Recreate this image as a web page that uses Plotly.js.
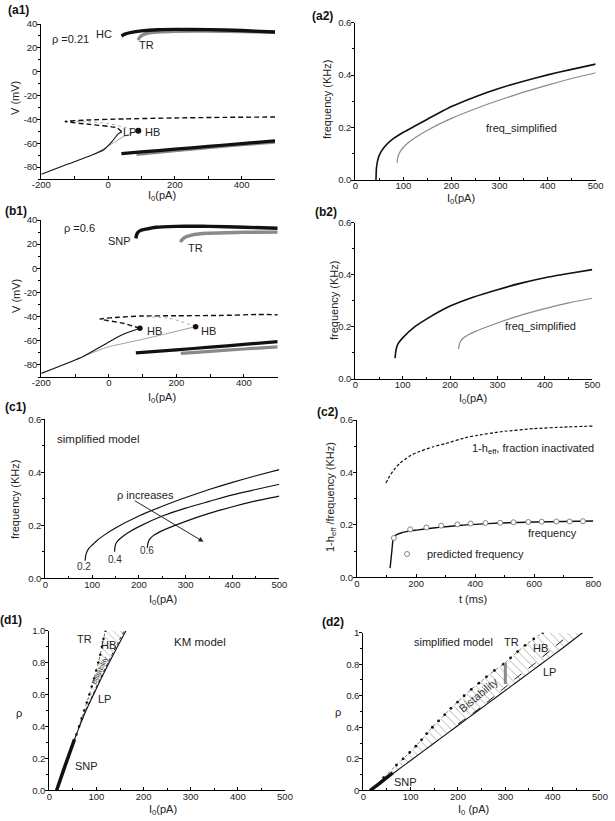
<!DOCTYPE html>
<html>
<head>
<meta charset="utf-8">
<script src="https://cdn.plot.ly/plotly-3.0.1.min.js"></script>
<style>html,body{margin:0;padding:0;background:#fff}#chart{width:615px;height:821px}</style>
</head>
<body>
<div id="chart"></div>
<script>
// ---------------- DATA ----------------
// (a1) rho = 0.21, bifurcation diagram V vs I0
const a1_hcUpperI = [40, 50, 70, 100, 150, 200, 300, 400, 500];
const a1_hcUpperV = [30, 31.5, 33, 34.2, 35.2, 35.5, 35.3, 34.5, 33.3];
const a1_trUpperI = [90, 95, 105, 120, 150, 200, 300, 400, 500];
const a1_trUpperV = [26.5, 29, 31, 32.3, 33.2, 33.8, 34, 33.6, 33];
const a1_hcLowerI = [40, 100, 200, 300, 400, 500];
const a1_hcLowerV = [-68.7, -67.3, -65, -62.7, -60.3, -58];
const a1_trLowerI = [85, 200, 300, 400, 500];
const a1_trLowerV = [-69.3, -66.3, -63.8, -61.3, -59];
const a1_stableI = [-200, -120, -44, -14, 11, 31, 41];
const a1_stableV = [-86, -77.5, -69.5, -65.7, -58.8, -52, -50.4];
const a1_unstableI = [41, 26, -54, -129, -60, 50, 200, 350, 500];
const a1_unstableV = [-50.4, -47, -44.2, -41.8, -40.5, -39.6, -38.8, -38.3, -38];
const a1_simpStableI = [-44, 0, 45, 90.5];
const a1_simpStableV = [-69.5, -62.5, -54.6, -49.5];
const a1_simpUnstableI = [90.5, 40, -4, -60, -129];
const a1_simpUnstableV = [-49.5, -46, -43.3, -42, -41.5];
const a1_hbI = [90.5];
const a1_hbV = [-49.5];

// (a2) frequency vs I0, rho = 0.21
const a2_fullI = [43, 43.5, 44, 46, 50, 60, 75, 100, 150, 200, 250, 300, 350, 400, 450, 500];
const a2_fullF = [0, 0.03, 0.045, 0.07, 0.095, 0.125, 0.152, 0.182, 0.232, 0.28, 0.318, 0.35, 0.377, 0.401, 0.422, 0.442];
const a2_simpI = [87, 88, 90, 95, 100, 110, 125, 150, 200, 250, 300, 350, 400, 450, 500];
const a2_simpF = [0.066, 0.082, 0.096, 0.113, 0.125, 0.142, 0.162, 0.19, 0.235, 0.272, 0.305, 0.335, 0.362, 0.387, 0.409];

// (b1) rho = 0.6
const b1_snpUpperI = [80, 82, 86, 95, 110, 140, 200, 250, 300, 400, 500];
const b1_snpUpperV = [24.8, 27.5, 29.8, 31.5, 32.5, 34, 34.7, 34.9, 34.7, 34, 33.2];
const b1_trUpperI = [213, 215, 222, 230, 250, 290, 350, 400, 500];
const b1_trUpperV = [21.5, 23, 25, 26.2, 27.8, 29, 29.5, 29.8, 30];
const b1_snpLowerI = [80, 200, 300, 400, 500];
const b1_snpLowerV = [-70, -67.5, -65.3, -63, -60.7];
const b1_trLowerI = [213, 300, 400, 500];
const b1_trLowerV = [-70.4, -68.8, -66.8, -65];
const b1_stableI = [-200, -76, -6, 38, 92];
const b1_stableV = [-87, -73, -62, -55.2, -49.7];
const b1_simpStableI = [-76, -6, 92, 180, 257];
const b1_simpStableV = [-73, -65.4, -59.3, -53.5, -48.3];
const b1_unstableI = [92, 43, -26, 30, 92, 200, 339, 440, 500];
const b1_unstableV = [-49.7, -45.5, -42, -40.5, -39.5, -39.3, -39, -38.2, -38.5];
const b1_simpUnstableI = [257, 181, 100];
const b1_simpUnstableV = [-48.3, -41.4, -40];
const b1_hbI = [92, 257];
const b1_hbV = [-49.7, -48.3];

// (b2) frequency vs I0, rho = 0.6
const b2_fullI = [84, 85, 87, 90, 100, 125, 150, 200, 250, 300, 350, 400, 450, 500];
const b2_fullF = [0.08, 0.1, 0.12, 0.135, 0.158, 0.2, 0.23, 0.28, 0.315, 0.343, 0.368, 0.389, 0.405, 0.42];
const b2_simpI = [218, 219, 222, 230, 250, 300, 350, 400, 450, 500];
const b2_simpF = [0.115, 0.13, 0.145, 0.16, 0.18, 0.215, 0.245, 0.27, 0.292, 0.31];

// (c1) simplified model, rho = 0.2 / 0.4 / 0.6
const c1_rhoLabels = ['0.2', '0.4', '0.6'];
const c1_r2I = [85, 86, 88, 93, 100, 110, 125, 150, 200, 250, 300, 350, 400, 450, 500];
const c1_r2F = [0.066, 0.082, 0.096, 0.113, 0.125, 0.142, 0.162, 0.19, 0.235, 0.272, 0.305, 0.335, 0.362, 0.387, 0.41];
const c1_r4I = [148, 149, 152, 160, 175, 200, 250, 300, 350, 400, 450, 500];
const c1_r4F = [0.1, 0.12, 0.135, 0.15, 0.17, 0.195, 0.235, 0.265, 0.29, 0.315, 0.335, 0.355];
const c1_r6I = [218, 219, 222, 230, 250, 300, 350, 400, 450, 500];
const c1_r6F = [0.115, 0.13, 0.145, 0.16, 0.18, 0.215, 0.245, 0.27, 0.292, 0.31];

// (c2) time course
const c2_hT = [98, 110, 125, 145, 175, 200, 258, 300, 371, 400, 484, 500, 597, 700, 800];
const c2_hV = [0.36, 0.385, 0.41, 0.435, 0.46, 0.475, 0.498, 0.51, 0.534, 0.54, 0.555, 0.557, 0.567, 0.573, 0.577];
const c2_freqT = [112, 118, 123, 130, 146, 175, 202, 258, 300, 371, 400, 484, 600, 700, 800];
const c2_freqF = [0.035, 0.1, 0.15, 0.16, 0.168, 0.176, 0.18, 0.188, 0.193, 0.2, 0.202, 0.207, 0.211, 0.213, 0.215];
const c2_predT = [125, 180, 235, 285, 340, 385, 435, 485, 530, 580, 625, 675, 720, 765];
const c2_predF = [0.15, 0.183, 0.19, 0.197, 0.202, 0.205, 0.207, 0.208, 0.21, 0.211, 0.212, 0.213, 0.213, 0.214];

// (d1) KM model two-parameter diagram
const d1_lpRho = [0, 0.1, 0.2, 0.3, 0.35, 0.4, 0.5, 0.6, 0.7, 0.8, 0.9, 1.0];
const d1_lpI = [15.6, 27, 39, 51, 57.5, 64, 78, 94, 110, 127, 144.5, 162.7];
const d1_snpRho = [0, 0.15, 0.32];
const d1_snpI = [15.6, 33, 53.5];
const d1_trRho = [0.35, 0.4, 0.45, 0.5, 0.55, 0.6, 0.65, 0.7, 0.75, 0.8, 0.85, 0.9, 0.95, 1.0];
const d1_trI = [57.5, 63, 68.5, 74, 79.5, 85, 90, 95, 99.5, 104, 108, 111.5, 115, 119];
const d1_hbRho = [0.4, 0.5, 0.6, 0.7, 0.8, 0.9, 1.0];
const d1_hbI = [63.5, 77, 92.5, 108, 124.5, 141.5, 159];

// (d2) simplified model two-parameter diagram
const d2_lpRho = [0, 0.1, 0.2, 0.3, 0.4, 0.5, 0.6, 0.7, 0.8, 0.9, 1.0];
const d2_lpI = [15, 60, 105, 150, 195, 240, 285, 330, 375, 420, 463];
const d2_snpRho = [0, 0.05, 0.11];
const d2_snpI = [15, 37, 62];
const d2_trRho = [0, 0.08, 0.16, 0.2, 0.24, 0.28, 0.32, 0.36, 0.4, 0.44, 0.48, 0.52, 0.56, 0.6, 0.64, 0.68, 0.72, 0.76, 0.8, 0.84, 0.88, 0.92, 0.96, 1.0];
const d2_trI = [15, 43, 70, 84, 98, 111, 123, 134, 146, 159, 172, 185, 199, 213, 228, 244, 260, 277, 296, 311, 326, 342, 360, 379];
const d2_hbRho = [0.42, 0.53, 0.63, 0.705, 0.8, 0.9, 0.975];
const d2_hbI = [200, 250, 290, 320, 360, 400, 430];
const d2_barRho = [0.674, 0.81];
const d2_barI = [300, 300];

// tick labels
const a1_xTickVals = [-200, -100, 0, 100, 200, 300, 400, 500];
const a1_xTickText = ['-200', ' ', '0', ' ', '200', ' ', '400', ' '];
const v_yTickVals = [-80, -60, -40, -20, 0, 20, 40];
const v_yTickText = ['-80', '-60', '-40', '-20', '0', '20', '40'];

// ---------------- STYLE / LAYOUT ----------------
const FONT = 'Liberation Sans, Arial, Helvetica, sans-serif';
const BLACK = '#111';
const GREY = '#8a8a8a';
const LGREY = '#a0a0a0';

function sfx(k) { return k === 1 ? '' : String(k); }
function tr(k, x, y, color, width, dash, extra) {
  return Object.assign({
    type: 'scatter', mode: 'lines', x: x, y: y,
    xaxis: 'x' + sfx(k), yaxis: 'y' + sfx(k),
    line: { color: color, width: width, dash: dash || 'solid', shape: 'spline', smoothing: 0.5 },
    showlegend: false, hoverinfo: 'skip'
  }, extra || {});
}
function pts(k, x, y, extra) {
  return Object.assign({
    type: 'scatter', mode: 'markers', x: x, y: y,
    xaxis: 'x' + sfx(k), yaxis: 'y' + sfx(k),
    marker: { color: BLACK, size: 6 }, showlegend: false, hoverinfo: 'skip'
  }, extra || {});
}
function hatch(k, xTop, yTop, xBot, yBot, size) {
  const xs = xTop.concat(xBot.slice().reverse());
  const ys = yTop.concat(yBot.slice().reverse());
  return {
    type: 'scatter', mode: 'none', x: xs, y: ys,
    xaxis: 'x' + sfx(k), yaxis: 'y' + sfx(k),
    fill: 'toself', fillcolor: 'rgba(0,0,0,0)',
    fillpattern: { shape: '\\', fgcolor: '#9a9a9a', bgcolor: 'rgba(0,0,0,0)', size: size, solidity: 0.12 },
    showlegend: false, hoverinfo: 'skip'
  };
}

const traces = [];
// a1
traces.push(tr(1, a1_simpUnstableI, a1_simpUnstableV, LGREY, 0.9, 'dot'));
traces.push(tr(1, a1_unstableI, a1_unstableV, BLACK, 1.4, '5px,3px'));
traces.push(tr(1, a1_simpStableI, a1_simpStableV, LGREY, 1, 'solid'));
traces.push(tr(1, a1_stableI, a1_stableV, BLACK, 1.1, 'solid'));
traces.push(tr(1, a1_trUpperI, a1_trUpperV, GREY, 3.2, 'solid'));
traces.push(tr(1, a1_trLowerI, a1_trLowerV, GREY, 3.2, 'solid'));
traces.push(tr(1, a1_hcUpperI, a1_hcUpperV, BLACK, 3.4, 'solid'));
traces.push(tr(1, a1_hcLowerI, a1_hcLowerV, BLACK, 3.2, 'solid'));
traces.push(pts(1, a1_hbI, a1_hbV));
// a2
traces.push(tr(2, a2_fullI, a2_fullF, BLACK, 1.6));
traces.push(tr(2, a2_simpI, a2_simpF, GREY, 1.2));
// b1
traces.push(tr(3, b1_simpUnstableI, b1_simpUnstableV, LGREY, 0.9, 'dot'));
traces.push(tr(3, b1_unstableI, b1_unstableV, BLACK, 1.4, '5px,3px'));
traces.push(tr(3, b1_simpStableI, b1_simpStableV, LGREY, 1, 'solid'));
traces.push(tr(3, b1_stableI, b1_stableV, BLACK, 1.1, 'solid'));
traces.push(tr(3, b1_trUpperI, b1_trUpperV, GREY, 3.4, 'solid'));
traces.push(tr(3, b1_trLowerI, b1_trLowerV, GREY, 3.2, 'solid'));
traces.push(tr(3, b1_snpUpperI, b1_snpUpperV, BLACK, 3.4, 'solid'));
traces.push(tr(3, b1_snpLowerI, b1_snpLowerV, BLACK, 3.2, 'solid'));
traces.push(pts(3, b1_hbI, b1_hbV, { marker: { color: BLACK, size: 5.5 } }));
// b2
traces.push(tr(4, b2_fullI, b2_fullF, BLACK, 1.6));
traces.push(tr(4, b2_simpI, b2_simpF, GREY, 1.2));
// c1
traces.push(tr(5, c1_r2I, c1_r2F, BLACK, 1.2));
traces.push(tr(5, c1_r4I, c1_r4F, BLACK, 1.2));
traces.push(tr(5, c1_r6I, c1_r6F, BLACK, 1.2));
// c2
traces.push(tr(6, c2_hT, c2_hV, BLACK, 1.2, '3px,2px'));
traces.push(tr(6, c2_freqT, c2_freqF, BLACK, 1.4));
traces.push(pts(6, c2_predT, c2_predF, {
  name: 'predicted frequency', showlegend: true,
  marker: { color: '#fff', size: 5, symbol: 'circle', line: { color: '#777', width: 0.9 } }
}));
// d1
traces.push(hatch(7, d1_trI, d1_trRho, d1_lpI.slice(4), d1_lpRho.slice(4), 5));
traces.push(tr(7, d1_lpI, d1_lpRho, BLACK, 1.1));
traces.push(tr(7, d1_hbI, d1_hbRho, BLACK, 0.9, 'dot'));
traces.push(tr(7, d1_trI, d1_trRho, '#444', 0.8, 'dot', { mode: 'lines+markers', marker: { color: BLACK, size: 2.5 } }));
traces.push(tr(7, d1_snpI, d1_snpRho, BLACK, 3.5));
// d2
traces.push(hatch(8, d2_trI, d2_trRho, d2_lpI, d2_lpRho, 6));
traces.push(tr(8, d2_lpI, d2_lpRho, BLACK, 1.1));
traces.push(tr(8, d2_hbI, d2_hbRho, BLACK, 1, 'dash'));
traces.push(tr(8, d2_trI, d2_trRho, '#555', 0.8, 'dot', { mode: 'lines+markers', marker: { color: BLACK, size: 2.8 } }));
traces.push(tr(8, d2_barI, d2_barRho, GREY, 3));
traces.push(tr(8, d2_snpI, d2_snpRho, BLACK, 3.5));

// axes
const tickFont = { family: FONT, size: 9.5, color: '#222' };
function axis(k, dir, domain, range, extra) {
  const base = {
    domain: domain, range: range, anchor: (dir === 'x' ? 'y' : 'x') + sfx(k),
    showline: true, linecolor: '#000', linewidth: 1, mirror: false,
    ticks: dir === 'x' ? 'inside' : 'outside', ticklen: dir === 'x' ? 3.5 : 3, tickwidth: 1, tickcolor: '#000',
    ticklabelstandoff: dir === 'x' ? -3 : -2,
    showgrid: false, zeroline: false, tickfont: tickFont, fixedrange: true
  };
  return Object.assign(base, extra || {});
}
function minor(d, dir) { return { dtick: d, ticklen: 2, tickcolor: '#000', ticks: dir === 'x' ? 'inside' : 'outside' }; }

const P = (px) => px / 615;
const Q = (py) => 1 - py / 821;

const layout = {
  width: 615, height: 821, autosize: false,
  margin: { l: 0, r: 0, t: 0, b: 0, pad: 0 },
  paper_bgcolor: '#fff', plot_bgcolor: 'rgba(0,0,0,0)',
  font: { family: FONT, size: 11, color: '#222' },
  showlegend: true,
  legend: { x: P(387), y: Q(554), xanchor: 'left', yanchor: 'middle', bgcolor: 'rgba(0,0,0,0)',
            font: { family: FONT, size: 11, color: '#222' }, itemwidth: 30, borderwidth: 0 },
  xaxis: axis(1, 'x', [P(41.3), P(275)], [-200, 500], { tickvals: a1_xTickVals, ticktext: a1_xTickText }),
  yaxis: axis(1, 'y', [Q(179), Q(24)], [-90, 40], { tickvals: v_yTickVals, ticktext: v_yTickText, minor: minor(10, 'y') }),
  xaxis2: axis(2, 'x', [P(355.3), P(595.7)], [0, 500], { dtick: 100, minor: minor(50, 'x') }),
  yaxis2: axis(2, 'y', [Q(180), Q(22.7)], [0, 0.6], { dtick: 0.2, tickformat: '.1f', minor: minor(0.1, 'y') }),
  xaxis3: axis(3, 'x', [P(41.3), P(277.7)], [-200, 500], { tickvals: a1_xTickVals, ticktext: a1_xTickText }),
  yaxis3: axis(3, 'y', [Q(377), Q(220)], [-90, 40], { tickvals: v_yTickVals, ticktext: v_yTickText, minor: minor(10, 'y') }),
  xaxis4: axis(4, 'x', [P(355.3), P(592.3)], [0, 500], { dtick: 100, minor: minor(50, 'x') }),
  yaxis4: axis(4, 'y', [Q(379), Q(222.7)], [0, 0.6], { dtick: 0.2, tickformat: '.1f', minor: minor(0.1, 'y') }),
  xaxis5: axis(5, 'x', [P(45.3), P(279.3)], [0, 500], { dtick: 100, minor: minor(50, 'x') }),
  yaxis5: axis(5, 'y', [Q(578.3), Q(419.3)], [0, 0.6], { dtick: 0.2, tickformat: '.1f', minor: minor(0.1, 'y') }),
  xaxis6: axis(6, 'x', [P(357), P(593.3)], [0, 800], { dtick: 200, minor: minor(100, 'x') }),
  yaxis6: axis(6, 'y', [Q(577.3), Q(420)], [0, 0.6], { dtick: 0.2, tickformat: '.1f', minor: minor(0.1, 'y') }),
  xaxis7: axis(7, 'x', [P(49.3), P(285)], [0, 500], { dtick: 100, minor: minor(50, 'x') }),
  yaxis7: axis(7, 'y', [Q(790.3), Q(630.7)], [0, 1], { dtick: 0.2, tickformat: '.1f', minor: minor(0.1, 'y') }),
  xaxis8: axis(8, 'x', [P(363.3), P(600)], [0, 500], { dtick: 100, minor: minor(50, 'x') }),
  yaxis8: axis(8, 'y', [Q(790.3), Q(632.7)], [0, 1], { dtick: 0.2, minor: minor(0.1, 'y') }),
  annotations: []
};

function note(k, x, y, text, opts) {
  layout.annotations.push(Object.assign({
    xref: 'x' + sfx(k), yref: 'y' + sfx(k), x: x, y: y, text: text, showarrow: false,
    font: { family: FONT, size: 11, color: '#222' }, xanchor: 'left', yanchor: 'middle'
  }, opts || {}));
}
function paperNote(px, py, text, opts) {
  layout.annotations.push(Object.assign({
    xref: 'paper', yref: 'paper', x: P(px), y: Q(py), text: text, showarrow: false,
    font: { family: FONT, size: 11, color: '#222' }, xanchor: 'center', yanchor: 'middle'
  }, opts || {}));
}

// panel labels
const bold = { family: 'Liberation Sans, Arial, sans-serif', size: 12, color: '#111' };
paperNote(18, 10, '<b>(a1)</b>', { font: bold });
paperNote(323, 16, '<b>(a2)</b>', { font: bold });
paperNote(16, 211, '<b>(b1)</b>', { font: bold });
paperNote(326, 212, '<b>(b2)</b>', { font: bold });
paperNote(15, 407, '<b>(c1)</b>', { font: bold });
paperNote(327, 412, '<b>(c2)</b>', { font: bold });
paperNote(11, 620, '<b>(d1)</b>', { font: bold });
paperNote(333, 622, '<b>(d2)</b>', { font: bold });

// axis titles
const rot = { textangle: -90 };
paperNote(15, 98, 'V (mV)', rot);
paperNote(162, 196, 'I<sub>0</sub>(pA)');
paperNote(327, 100, 'frequency (KHz)', rot);
paperNote(461, 199, 'I<sub>0</sub>(pA)');
paperNote(16, 296, 'V (mV)', rot);
paperNote(162, 398, 'I<sub>0</sub>(pA)');
paperNote(334, 301, 'frequency (KHz)', rot);
paperNote(473, 399, 'I<sub>0</sub>(pA)');
paperNote(15, 500, 'frequency (KHz)', rot);
paperNote(163, 600, 'I<sub>0</sub>(pA)');
paperNote(331, 497, '1-h<sub>eff</sub> /frequency (KHz)', rot);
paperNote(473, 599, 't (ms)');
paperNote(19, 713, 'ρ');
paperNote(163, 810, 'I<sub>0</sub>(pA)');
paperNote(338, 712, 'ρ');
paperNote(473, 810, 'I<sub>0</sub> (pA)');

// a1 labels
note(1, -175, 27, 'ρ =0.21');
note(1, 18, 32, 'HC', { xanchor: 'right' });
note(1, 88, 22, 'TR');
note(1, 40, -51, 'LP');
note(1, 104, -51, 'HB');
// a2
note(2, 268, 0.2, 'freq_simplified');
// b1
note(3, -140, 33, 'ρ =0.6');
note(3, 71, 23, 'SNP', { xanchor: 'right' });
note(3, 228, 17, 'TR');
note(3, 108, -51.5, 'HB');
note(3, 268, -51.5, 'HB');
// b2
note(4, 312, 0.205, 'freq_simplified');
// c1
note(5, 20, 0.525, 'simplified model', { font: { family: FONT, size: 11.5, color: '#222' } });
note(5, 148, 0.316, 'ρ increases');
note(5, 82, 0.043, c1_rhoLabels[0], { xanchor: 'center', font: { family: FONT, size: 10, color: '#333' } });
note(5, 149, 0.072, c1_rhoLabels[1], { xanchor: 'center', font: { family: FONT, size: 10, color: '#333' } });
note(5, 217, 0.104, c1_rhoLabels[2], { xanchor: 'center', font: { family: FONT, size: 10, color: '#333' } });
layout.annotations.push({
  xref: 'x5', yref: 'y5', x: 338, y: 0.138, ax: 188, ay: 0.296, axref: 'x5', ayref: 'y5',
  showarrow: true, arrowhead: 2, arrowsize: 1, arrowwidth: 1, arrowcolor: '#222', text: ''
});
// c2
note(6, 382, 0.488, '1-h<sub>eff</sub>, fraction inactivated');
note(6, 572, 0.17, 'frequency');
// d1
note(7, 75, 0.95, 'TR', { xanchor: 'center' });
note(7, 125, 0.91, 'HB', { xanchor: 'center' });
note(7, 100, 0.57, 'LP');
note(7, 50, 0.15, 'SNP');
note(7, 320, 0.93, 'KM model', { xanchor: 'center', font: { family: FONT, size: 11.5, color: '#222' } });
note(7, 107, 0.75, 'Bistability', { xanchor: 'center', textangle: -65, font: { family: FONT, size: 7, color: '#333' } });
// d2
note(8, 102, 0.943, 'simplified model', { font: { family: FONT, size: 11, color: '#222' } });
note(8, 313, 0.94, 'TR', { xanchor: 'center' });
note(8, 374, 0.9, 'HB', { xanchor: 'center' });
note(8, 375, 0.75, 'LP');
note(8, 60, 0.055, 'SNP');
note(8, 243, 0.605, 'Bistability', { xanchor: 'center', textangle: -40, font: { family: FONT, size: 11, color: '#333' } });

Plotly.newPlot('chart', traces, layout, { staticPlot: true, displayModeBar: false });
</script>
</body>
</html>
